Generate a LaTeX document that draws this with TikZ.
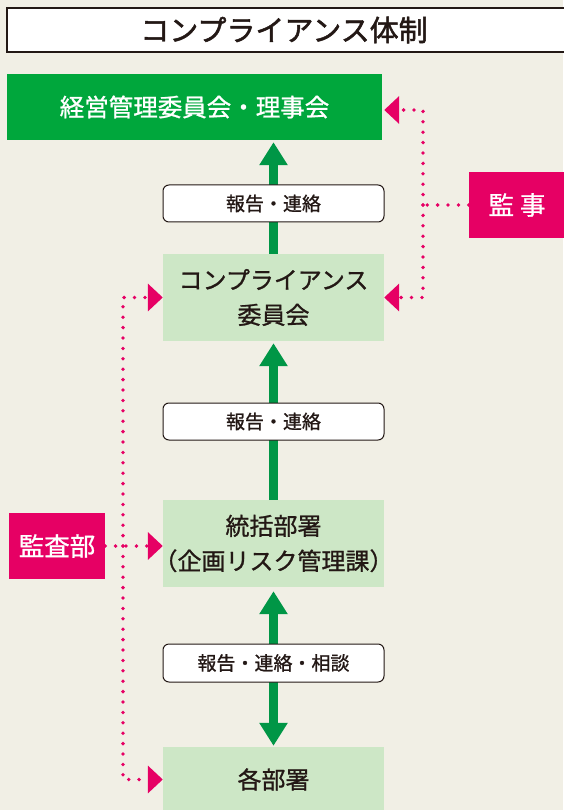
\documentclass[tikz,border=0pt]{standalone}
\usepackage{fontspec}
\setmainfont[FakeBold=1]{Noto Sans CJK JP}
\newfontfamily\titlefont[FakeBold=1.6]{Noto Sans CJK JP}
\usetikzlibrary{arrows.meta}
\definecolor{bgc}{RGB}{241,239,229}
\definecolor{dgreen}{RGB}{0,167,60}
\definecolor{agreen}{RGB}{0,150,70}
\definecolor{lgreen}{RGB}{205,231,198}
\definecolor{mag}{RGB}{230,0,100}
\definecolor{ink}{RGB}{35,24,21}
\begin{document}
\begin{tikzpicture}[x=1pt,y=-1pt,
  box/.style={inner sep=0pt, align=center},
  titlebox/.style={box, draw=ink, line width=1.3pt, fill=white},
  topbox/.style={box, fill=dgreen, text=white, font=\fontsize{24.5}{30}\selectfont},
  lbox/.style={box, fill=lgreen, text=ink, font=\fontsize{24}{35}\selectfont},
  mbox/.style={box, fill=mag, text=white, font=\fontsize{25.5}{30}\selectfont},
  tag/.style={box, draw=ink, line width=1pt, fill=white, rounded corners=6pt, text=ink,
    minimum width=221pt, minimum height=37pt, font=\fontsize{19}{24}\selectfont},
  garrow/.style={draw=agreen, line width=9pt, -{Triangle[width=27pt,length=23pt]}},
  gdarrow/.style={draw=agreen, line width=9pt, {Triangle[width=27pt,length=23pt]}-{Triangle[width=27pt,length=23pt]}},
  dotline/.style={draw=mag, line width=3.8pt, line cap=round, dash pattern=on 0pt off 10.4pt},
  dotarr/.style={dotline, -{Triangle[width=27pt,length=15pt]}, shorten >=0pt}
]
\useasboundingbox (0,0) rectangle (563,810);
\fill[bgc] (0,0) rectangle (563,810);

% boxes
\node[titlebox, minimum width=558pt, minimum height=44pt] (title) at (286,30) {};
\node[text=ink, font=\titlefont\fontsize{29}{34}\selectfont, inner sep=0pt] (titletext) at (284,30) {コンプライアンス体制};
\node[topbox, minimum width=375pt, minimum height=66pt] (top) at (194.5,107) {経営管理委員会・理事会};
\node[lbox, minimum width=221pt, minimum height=87pt] (comm) at (273.5,297.5) {コンプライアンス\\委員会};
\node[lbox, minimum width=221pt, minimum height=87pt] (sou) at (273.5,543.5) {統括部署\\\kern-0.45em（企画リスク管理課）\kern-0.45em};
\node[lbox, minimum width=221pt, minimum height=65pt] (kaku) at (273.5,779.5) {各部署};
\node[mbox, minimum width=96pt, minimum height=66pt] (kanji) at (517,205) {監\hspace{6pt}事};
\node[mbox, minimum width=96pt, minimum height=66pt] (audit) at (57,546) {監査部};

% green arrows
\draw[garrow, shorten >=2pt] (comm.north) -- (comm.north |- top.south);
\draw[garrow, shorten >=2pt] (sou.north) -- (comm.south);
\draw[gdarrow, shorten >=4pt, shorten <=1pt] (kaku.north) -- (sou.south);

% labels on arrows
\node[tag] (l1) at (273.5,203.5) {報告・連絡};
\node[tag] (l2) at (273.5,421.5) {報告・連絡};
\node[tag, minimum height=38pt] (l3) at (273.5,663) {報告・連絡・相談};

% dotted connectors
\coordinate (jR) at (423,205);
\coordinate (aL) at (123,546);
\draw[dotline] (kanji.west) -- (jR);
\draw[dotarr, shorten >=2pt] (jR) |- ([yshift=-3pt]top.east);
\draw[dotarr] (jR) |- (comm.east);
\draw[dotarr] (audit.east) -- (audit.east -| sou.west);
\draw[dotarr] (aL) |- (comm.west);
\draw[dotarr] (aL) |- (kaku.west);
\end{tikzpicture}
\end{document}
